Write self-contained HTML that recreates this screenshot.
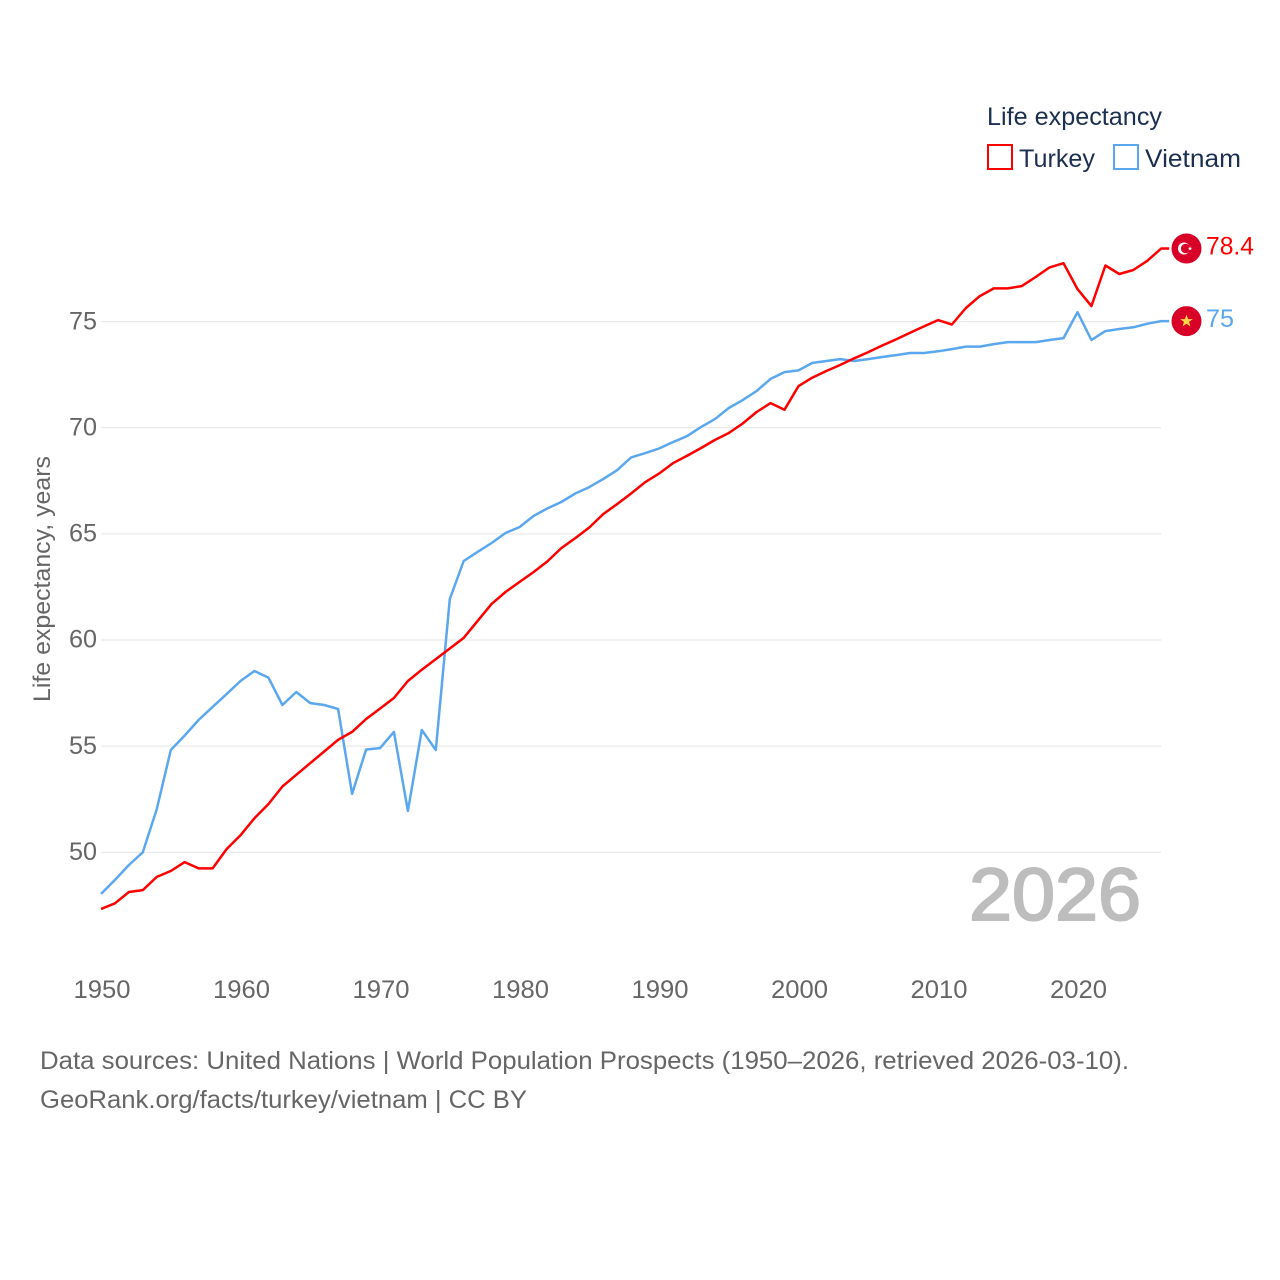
<!DOCTYPE html>
<html lang="en">
<head>
<meta charset="utf-8">
<title>Life expectancy: Turkey vs Vietnam</title>
<style>
html,body{margin:0;padding:0;background:#fff;width:1280px;height:1280px;overflow:hidden}
svg{display:block}
text{font-family:"Liberation Sans",sans-serif}
</style>
</head>
<body>
<svg id="chart" xmlns="http://www.w3.org/2000/svg" width="1280" height="1280" viewBox="0 0 1280 1280">
  <rect width="1280" height="1280" fill="#fff"/>
  <g id="grid"></g>
  <g id="yticks"></g>
  <g id="xticks"></g>
  <text transform="translate(50 702) rotate(-90)" font-size="24" fill="#666" textLength="246" lengthAdjust="spacingAndGlyphs">Life expectancy, years</text>
  <text x="969" y="920" font-size="74" font-weight="400" fill="#bdbdbd" stroke="#bdbdbd" stroke-width="2" textLength="172" lengthAdjust="spacingAndGlyphs">2026</text>
  <path id="line-vietnam" fill="none" stroke="#5ba7ee" stroke-width="2.5" stroke-linejoin="round"/>
  <path id="line-turkey" fill="none" stroke="#ff0000" stroke-width="2.5" stroke-linejoin="round"/>
  <g id="end-turkey">
    <circle r="15" fill="#d80027"/>
    <circle cx="-2.5" r="6" fill="#fff"/>
    <circle cx="-0.8" r="4.8" fill="#d80027"/>
    <polygon points="3.5,-2.2 4.1,-0.6 5.8,-0.6 4.4,0.4 4.9,2 3.5,1 2.1,2 2.6,0.4 1.2,-0.6 2.9,-0.6" fill="#fff"/>
  </g>
  <g id="end-vietnam">
    <circle r="15" fill="#d80027"/>
    <polygon points="0,-6.5 1.6,-2 6.4,-2 2.5,0.8 4,5.4 0,2.6 -4,5.4 -2.5,0.8 -6.4,-2 -1.6,-2" fill="#ffda44"/>
  </g>
  <text id="value-turkey" x="1206" font-size="25" fill="#ff0000" textLength="48" lengthAdjust="spacingAndGlyphs"></text>
  <text id="value-vietnam" x="1206" font-size="25" fill="#5ba7ee" textLength="28" lengthAdjust="spacingAndGlyphs"></text>
  <g>
    <text x="987" y="125" font-size="25" fill="#1b2f50" textLength="175" lengthAdjust="spacingAndGlyphs">Life expectancy</text>
    <rect x="988" y="145" width="24" height="24" fill="#fff" stroke="#ff0000" stroke-width="2"/>
    <text x="1019" y="167" font-size="25" fill="#1b2f50" textLength="76" lengthAdjust="spacingAndGlyphs">Turkey</text>
    <rect x="1114" y="145" width="24" height="24" fill="#fff" stroke="#5ba7ee" stroke-width="2"/>
    <text x="1145" y="167" font-size="25" fill="#1b2f50" textLength="96" lengthAdjust="spacingAndGlyphs">Vietnam</text>
  </g>
  <text x="40" y="1069" font-size="25" fill="#666" textLength="1089" lengthAdjust="spacingAndGlyphs">Data sources: United Nations | World Population Prospects (1950–2026, retrieved 2026-03-10).</text>
  <text x="40" y="1108" font-size="25" fill="#666" textLength="487" lengthAdjust="spacingAndGlyphs">GeoRank.org/facts/turkey/vietnam | CC BY</text>
</svg>
<script>
const startYear = 1950;
const xTickYears = [1950,1960,1970,1980,1990,2000,2010,2020];
const yTickValues = [50,55,60,65,70,75];
const turkeyValues = [47.33,47.6,48.13,48.22,48.84,49.12,49.54,49.24,49.24,50.15,50.8,51.6,52.27,53.1,53.65,54.2,54.75,55.3,55.67,56.28,56.77,57.27,58.07,58.6,59.1,59.6,60.1,60.9,61.7,62.26,62.73,63.2,63.7,64.33,64.8,65.3,65.93,66.4,66.9,67.43,67.84,68.33,68.67,69.04,69.42,69.75,70.2,70.74,71.16,70.85,71.96,72.36,72.67,72.96,73.27,73.56,73.87,74.16,74.47,74.77,75.07,74.86,75.64,76.2,76.56,76.56,76.67,77.1,77.55,77.75,76.53,75.73,77.64,77.24,77.43,77.86,78.44];
const vietnamValues = [48.04,48.7,49.4,50,52.04,54.82,55.5,56.23,56.85,57.45,58.07,58.54,58.23,56.94,57.55,57.03,56.94,56.75,52.75,54.84,54.91,55.67,51.95,55.76,54.82,61.93,63.72,64.15,64.57,65.04,65.32,65.84,66.2,66.5,66.9,67.2,67.58,68,68.6,68.8,69.02,69.32,69.6,70.03,70.4,70.93,71.3,71.73,72.3,72.62,72.7,73.05,73.14,73.23,73.14,73.23,73.33,73.42,73.52,73.52,73.6,73.7,73.82,73.82,73.94,74.03,74.03,74.03,74.13,74.22,75.44,74.13,74.55,74.65,74.73,74.9,75.02];
const turkeyLabel = "78.4";
const vietnamLabel = "75";

const NS = "http://www.w3.org/2000/svg";
function xScale(year){ return 101 + (year - 1950) * 13.95; }
function yScale(v){ return 852.3 - (v - 50) * 21.23; }

const gridGroup = document.getElementById('grid');
const yGroup = document.getElementById('yticks');
const xGroup = document.getElementById('xticks');

yTickValues.forEach(function(v){
  const line = document.createElementNS(NS,'line');
  
  
  line.setAttribute('x1', 101);
  line.setAttribute('x2', 1161);
  line.setAttribute('y1', yScale(v));
  line.setAttribute('y2', yScale(v));
  line.setAttribute('stroke', '#e8e8e8');
  line.setAttribute('stroke-width', '1.2');
  gridGroup.appendChild(line);
  const t = document.createElementNS(NS,'text');
  
  
  t.setAttribute('x', 97);
  t.setAttribute('y', yScale(v) + 7.7);
  t.setAttribute('text-anchor', 'end');
  t.setAttribute('font-size', '25');
  t.setAttribute('fill', '#666');
  t.setAttribute('textLength', '28');
  t.setAttribute('lengthAdjust', 'spacingAndGlyphs');
  t.textContent = v;
  yGroup.appendChild(t);
});

xTickYears.forEach(function(y){
  const t = document.createElementNS(NS,'text');
  
  
  t.setAttribute('x', xScale(y) + 1);
  t.setAttribute('y', 998);
  t.setAttribute('text-anchor', 'middle');
  t.setAttribute('font-size', '25');
  t.setAttribute('fill', '#666');
  t.setAttribute('textLength', '57');
  t.setAttribute('lengthAdjust', 'spacingAndGlyphs');
  t.textContent = y;
  xGroup.appendChild(t);
});

function linePath(values){
  let d = values.map(function(v,i){
    return (i ? 'L' : 'M') + xScale(startYear + i).toFixed(1) + ' ' + yScale(v).toFixed(1);
  }).join(' ');
  d += ' L' + (xScale(startYear + values.length - 1) + 8).toFixed(1) + ' ' + yScale(values[values.length - 1]).toFixed(1);
  return d;
}
document.getElementById('line-turkey').setAttribute('d', linePath(turkeyValues));
document.getElementById('line-vietnam').setAttribute('d', linePath(vietnamValues));

function placeEnd(values, markerId, labelId, label){
  const y = yScale(values[values.length - 1]);
  document.getElementById(markerId).setAttribute('transform', 'translate(1186.5 ' + y.toFixed(1) + ')');
  const t = document.getElementById(labelId);
  t.setAttribute('y', (y + 6).toFixed(1));
  t.textContent = label;
}
placeEnd(turkeyValues, 'end-turkey', 'value-turkey', turkeyLabel);
placeEnd(vietnamValues, 'end-vietnam', 'value-vietnam', vietnamLabel);
</script>
</body>
</html>
